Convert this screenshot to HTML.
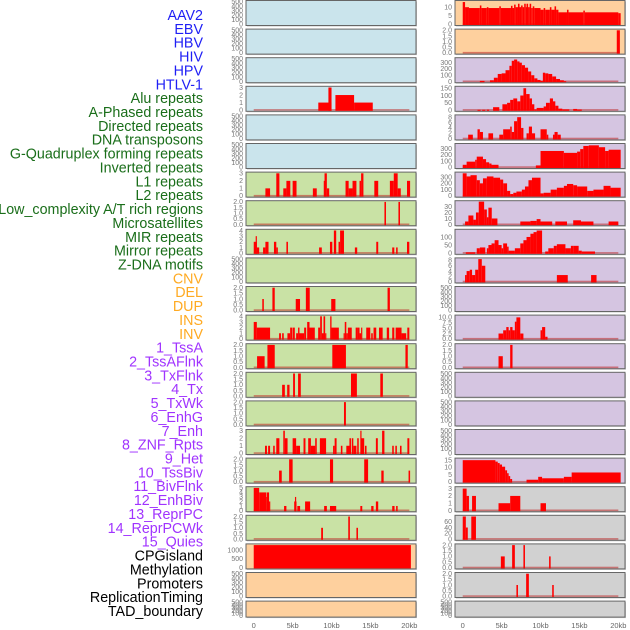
<!DOCTYPE html>
<html><head><meta charset="utf-8">
<style>
html,body{margin:0;padding:0;background:#fff;}
svg{display:block;font-family:"Liberation Sans",Arial,sans-serif;}
</style></head>
<body>
<svg id="chart" width="630" height="630" viewBox="0 0 630 630" xmlns="http://www.w3.org/2000/svg">
<g id="labels"></g>
<g id="panels"></g>
<g id="xaxes"></g>
</svg>
<script>
const trackNames = ["AAV2","EBV","HBV","HIV","HPV","HTLV-1","Alu repeats","A-Phased repeats","Directed repeats","DNA transposons","G-Quadruplex forming repeats","Inverted repeats","L1 repeats","L2 repeats","Low_complexity A/T rich regions","Microsatellites","MIR repeats","Mirror repeats","Z-DNA motifs","CNV","DEL","DUP","INS","INV","1_TssA","2_TssAFlnk","3_TxFlnk","4_Tx","5_TxWk","6_EnhG","7_Enh","8_ZNF_Rpts","9_Het","10_TssBiv","11_BivFlnk","12_EnhBiv","13_ReprPC","14_ReprPCWk","15_Quies","CPGisland","Methylation","Promoters","ReplicationTiming","TAD_boundary"];
const labelGroups = [6,13,5,15,5];
const groupColors = ["#1f1ff5","#1a6e1a","#ffaa22","#a033ff","#000000"];

const xTicks = [0,5,10,15,20];
const xTickLabels = ["0","5kb","10kb","15kb","20kb"];

const ticksEmpty = ["0","100","200","300","400","500"];
const ticks3 = ["0","1","2","3"];
const ticks4 = ["0","1","2","3","4"];
const ticks5 = ["0","1","2","3","4","5"];
const ticks2 = ["0.0","0.5","1.0","1.5","2.0"];
const ticks1000 = ["0","500","1000"];
const ticks10 = ["0","5","10"];
const ticks15 = ["0","5","10","15"];
const ticks300 = ["0","100","200","300"];
const ticks150 = ["0","50","100","150"];
const ticks8 = ["0","2","4","6","8"];
const ticks30 = ["0","10","20","30"];
const ticks100 = ["0","50","100"];
const ticks10f = ["0.0","2.5","5.0","7.5","10.0"];
const ticks60 = ["0","20","40","60"];

const hivBars = [[8.3,10.0,1],[9.6,10.0,3],[10.5,12.9,2],[12.9,15.3,1]];
const aluBars = [[1.5,2.1,1],[2.9,3.3,3],[3.8,4.2,1],[4.2,4.7,2],[5.0,5.5,2],[7.6,8.1,1],[9.0,9.3,2],[9.1,9.4,3],[9.4,9.7,1],[11.8,12.2,2],[12.2,12.7,1],[12.7,13.2,2],[13.6,13.8,2],[13.8,14.1,3],[15.5,16.0,2],[17.5,18.0,2],[18.0,18.5,3],[18.5,18.9,1],[19.7,20.1,2]];
const aPhasedBars = [[16.8,17.0,2],[18.6,18.8,2]];
const directedBars = [[0.0,0.4,2],[0.25,0.4,3],[0.4,0.7,1],[1.2,1.5,1],[1.5,1.9,2],[2.6,2.9,2],[2.9,3.1,1],[4.2,4.4,2],[8.4,8.75,1],[9.8,10.1,2],[10.3,10.6,4],[10.9,11.1,2],[11.1,11.6,4],[13.0,13.3,1],[15.75,16.0,2],[17.8,18.07,1],[18.3,18.5,1],[19.7,20.0,2]];
const gquadBars = [[1.1,1.3,1],[2.4,2.7,2],[5.4,5.95,1],[6.7,7.2,2],[9.96,10.5,1],[17.2,17.5,2]];
const invertedBars = [[0.0,0.4,3],[0.4,2.1,2],[3.26,3.5,1],[3.65,3.86,1],[4.33,4.68,1],[4.68,4.94,2],[5.0,5.28,2],[5.45,5.7,1],[5.7,5.88,2],[5.88,6.48,1],[6.48,6.74,2],[6.87,7.17,3],[7.17,7.85,2],[8.28,8.54,2],[8.54,8.76,4],[8.76,8.97,1],[8.97,9.18,4],[9.18,9.31,1],[9.83,10.0,4],[10.0,10.94,2],[11.55,11.7,1],[11.7,11.9,3],[11.9,12.1,1],[12.1,12.6,2],[13.1,13.35,2],[13.35,13.6,2],[13.6,13.8,1],[13.8,13.95,2],[14.46,14.98,2],[15.1,15.3,1],[15.4,15.75,2],[16.1,16.57,2],[17.1,17.4,2],[17.8,18.07,2],[18.24,19.0,2],[19.0,19.6,1],[19.74,20.0,2]];
const l1Bars = [[0.43,1.4,1],[1.76,2.7,2],[10.1,11.85,2],[19.5,19.8,2]];
const l2Bars = [[3.65,4.0,1],[4.3,4.6,1],[5.06,5.3,2],[5.7,6.05,2],[12.5,13.26,2],[16.27,16.6,2]];
const lowComplexBars = [[11.6,11.85,2]];
const microsatBars = [[1.45,1.7,1],[1.85,2.1,1],[2.5,2.7,1],[2.9,3.3,2],[3.8,4.0,3],[4.0,4.35,2],[5.0,5.45,2],[5.45,5.95,1],[6.4,6.65,2],[7.0,7.35,2],[7.35,7.9,1],[7.9,8.1,2],[8.5,9.3,2],[10.2,10.4,1],[10.4,10.65,2],[11.2,11.4,1],[11.9,12.5,1],[12.3,12.5,2],[12.6,12.8,2],[12.8,13.2,1],[13.3,13.5,2],[13.7,13.85,3],[13.85,14.2,2],[14.3,14.5,1],[15.7,15.95,2],[16.5,16.8,3],[17.8,18.0,1],[18.2,18.4,1],[18.8,19.0,1],[19.75,20.0,2]];
const mirBars = [[3.26,3.6,1],[4.55,5.0,2],[9.8,10.2,2],[14.2,14.7,2],[16.4,16.7,1],[19.9,20.1,1]];
const mirrorBars = [[0.0,0.7,5],[0.7,1.6,4],[1.6,1.67,3],[1.67,1.97,4],[1.97,2.1,2],[3.9,4.2,1],[5.2,5.5,2],[5.3,5.45,3],[5.6,5.96,1],[6.6,7.25,2],[9.05,9.4,1],[9.8,10.6,1],[13.7,13.95,1],[15.1,15.4,1],[15.7,16.0,2],[17.8,18.1,1],[18.3,18.5,1]];
const zdnaBars = [[8.67,8.9,1],[12.15,12.36,2],[13.2,13.4,1]];
const cnvBars = [[0.0,20.2,1290]];
const insBars = [[0,0.3,13],[0.3,0.8,10],[0.8,2.2,9.5],[2.2,2.4,11],[2.4,3.1,9.5],[3.1,3.3,10],[3.3,4.7,9.5],[4.7,4.9,10.5],[4.9,6.2,9.5],[6.2,6.4,10.8],[6.4,6.6,9.5],[6.6,6.8,11.5],[6.8,7.1,10],[7.1,7.3,12],[7.3,7.5,10],[7.5,7.7,11],[7.7,7.9,10],[7.9,8.1,12],[8.1,8.2,10],[8.2,8.4,12],[8.4,8.6,10],[8.6,8.8,12],[8.8,9.0,9.5],[9.0,9.2,10.5],[9.2,10.0,9.5],[10.0,10.4,8.5],[10.4,10.6,9.5],[10.6,11.2,8.5],[11.2,11.4,10],[11.4,11.8,8.5],[11.8,12.0,10.5],[12.0,12.3,8.5],[12.3,13.4,7],[13.4,13.6,8.5],[13.6,15.5,7],[15.5,15.7,8],[15.7,20.0,7],[20.0,20.3,6.5]];
const invBars = [[19.8,20.2,2]];
const tssABars = [[2.2,2.8,10],[3.5,4.0,20],[4.0,4.5,60],[4.5,5.0,120],[5.0,5.5,130],[5.5,6.0,180],[6.0,6.3,250],[6.3,6.6,330],[6.6,7.0,350],[7.0,7.3,320],[7.3,7.6,300],[7.6,8.0,260],[8.0,8.4,220],[8.4,8.8,160],[8.8,9.2,100],[9.2,9.6,50],[9.6,10.0,25],[10.0,10.3,10],[10.3,10.6,140],[10.6,11.0,130],[11.0,11.5,120],[11.5,12.0,80],[12.0,12.5,40],[12.5,13.0,20],[13.0,13.3,5]];
const tssAFlnkBars = [[1.9,2.3,2],[2.5,2.9,2],[3.1,3.4,3],[3.9,4.7,20],[5.1,5.7,40],[5.7,6.1,50],[6.1,6.5,70],[6.5,7.0,80],[7.0,7.4,60],[7.4,7.8,100],[7.8,8.15,150],[8.15,8.6,110],[8.6,8.9,80],[8.9,9.2,40],[9.2,9.5,5],[9.5,10.4,15],[10.4,10.7,25],[10.7,11.2,50],[11.2,11.6,80],[11.6,11.9,60],[11.9,12.3,30],[12.3,12.8,10],[12.8,13.7,5],[14.2,14.7,8],[14.7,15.3,4]];
const txFlnkBars = [[0.7,1.3,1.5],[1.9,2.2,3.5],[2.2,2.6,2.5],[3.3,3.9,2],[4.7,5.2,1.5],[5.2,6.1,3.5],[6.1,6.3,4.5],[6.3,6.6,2.5],[6.6,7.0,6.5],[7.0,7.5,8],[7.5,7.8,4],[8.2,8.5,2],[8.5,8.9,4.5],[8.9,9.3,2],[10.0,10.8,3.5],[10.8,11.0,1.5],[11.6,11.8,1.5],[11.8,12.2,2.5],[12.2,12.6,1.5]];
const txBars = [[0,0.5,40],[0.5,1.6,90],[1.6,1.8,120],[1.8,2.6,170],[2.6,3.0,130],[3.0,3.4,80],[3.4,3.7,60],[3.7,4.6,40],[9.4,10.0,30],[10.0,13.0,260],[13.0,14.7,230],[14.7,15.1,250],[15.1,15.5,290],[15.5,16.2,340],[16.2,17.5,350],[17.5,18.3,320],[18.3,18.75,260],[18.75,20.3,280]];
const txWkBars = [[0,0.5,360],[0.5,1.0,310],[1.0,1.8,330],[1.8,2.2,250],[2.2,2.6,200],[2.6,3.1,280],[3.1,3.95,310],[3.95,4.8,290],[4.8,5.2,260],[5.2,5.7,200],[5.7,6.1,80],[6.1,6.5,30],[6.5,6.9,50],[6.9,7.6,70],[7.6,8.0,100],[8.0,8.45,150],[8.45,8.9,250],[8.9,10.0,290],[10.0,10.4,40],[10.4,11.3,50],[11.3,12.1,100],[12.1,13.0,130],[13.0,13.4,160],[13.4,14.2,190],[14.2,14.7,170],[14.7,16.0,150],[16.0,16.8,80],[16.8,18.1,100],[18.1,19.0,160],[19.0,20.3,130]];
const enhGBars = [[0.3,0.73,5],[0.73,1.37,15],[1.37,1.7,8],[1.7,2.06,20],[2.06,2.75,38],[2.75,3.1,25],[3.1,3.3,12],[3.3,3.73,28],[3.73,4.46,10],[7.4,8.7,5],[8.7,9.5,6],[9.5,10.0,9],[10.0,11.5,5],[11.9,13.4,5],[14.2,15.2,7],[15.2,16.8,5],[18.75,20.0,5]];
const enhBars = [[0.4,1.6,5],[1.8,2.2,30],[2.2,2.9,35],[3.1,3.3,30],[3.3,3.7,50],[3.7,4.1,60],[4.1,4.6,80],[4.6,5.0,50],[5.0,5.2,30],[5.2,5.7,60],[5.7,5.9,40],[5.9,6.7,15],[6.7,7.4,30],[7.4,7.8,60],[7.8,8.2,80],[8.2,8.7,100],[8.7,9.1,120],[9.1,9.5,130],[9.5,10.2,140],[10.6,11.0,10],[11.0,11.7,30],[11.7,12.1,45],[12.1,13.2,55],[13.2,13.9,30],[13.9,14.2,45],[14.2,14.9,45],[14.9,15.3,15],[15.3,17.0,10]];
const znfBars = [[0.3,0.5,2.5],[0.5,0.9,4],[0.9,1.2,4.5],[1.2,1.6,2.5],[1.6,2.0,4.5],[2.0,2.45,8.5],[2.45,2.9,6],[12.1,13.5,2.5],[16.5,17.2,2.5]];
const bivFlnkBars = [[4.6,5.2,2.5],[5.2,5.6,4],[5.6,5.9,5.5],[5.9,6.1,4],[6.1,6.4,5.5],[6.4,6.7,4],[6.7,6.9,8],[6.9,7.4,10],[7.4,7.8,2.5],[10.0,10.2,4],[10.2,10.6,5.5],[10.6,10.9,1]];
const enhBivBars = [[4.6,5.15,1],[6.1,6.4,2]];
const quiesBars = [[0,4.2,15],[4.2,4.5,14],[4.5,4.75,13],[4.75,5.05,12],[5.05,5.45,10.5],[5.45,5.7,8],[5.7,5.9,6],[5.9,6.1,4],[6.1,6.35,2],[8.2,9.7,1.5],[9.7,10.2,3.5],[10.2,13.0,2.5],[13.0,14.0,3.5],[14.0,20.3,6.5]];
const cpgBars = [[0,0.5,3],[0.5,0.8,2],[1.2,1.7,2],[4.6,6.1,1],[6.1,7.4,2],[10.0,10.7,1]];
const methylBars = [[0,0.4,78],[0.4,0.65,40],[1.1,1.7,78]];
const promoterBars = [[4.9,5.4,1],[6.35,6.7,2],[7.8,8.0,2],[11.1,11.3,1]];
const replBars = [[6.9,7.1,1],[8.15,8.5,2],[11.5,11.7,1]];

const BLUE="rgb(202,228,236)",GREEN="rgb(201,226,165)",ORANGE="rgb(254,208,158)",PURPLE="rgb(213,197,225)",GRAY="rgb(209,209,209)";
const leftPanels = [
 [BLUE,ticksEmpty,[],500],[BLUE,ticksEmpty,[],500],[BLUE,ticksEmpty,[],500],[BLUE,ticks3,hivBars,3],[BLUE,ticksEmpty,[],500],[BLUE,ticksEmpty,[],500],
 [GREEN,ticks3,aluBars,3],[GREEN,ticks2,aPhasedBars,2],[GREEN,ticks4,directedBars,4],[GREEN,ticksEmpty,[],500],[GREEN,ticks2,gquadBars,2],[GREEN,ticks4,invertedBars,4],
 [GREEN,ticks2,l1Bars,2],[GREEN,ticks2,l2Bars,2],[GREEN,ticks2,lowComplexBars,2],[GREEN,ticks3,microsatBars,3],[GREEN,ticks2,mirBars,2],[GREEN,ticks5,mirrorBars,5],[GREEN,ticks2,zdnaBars,2],
 [ORANGE,ticks1000,cnvBars,1290],[ORANGE,ticksEmpty,[],500],[ORANGE,ticksEmpty,[],500]
];
const rightPanels = [
 [ORANGE,ticks10,insBars,13.2],[ORANGE,ticks2,invBars,2],
 [PURPLE,ticks300,tssABars,360],[PURPLE,ticks150,tssAFlnkBars,155],[PURPLE,ticks8,txFlnkBars,8.4],[PURPLE,ticks300,txBars,360],[PURPLE,ticks300,txWkBars,360],
 [PURPLE,ticks30,enhGBars,37.6],[PURPLE,ticks100,enhBars,140],[PURPLE,ticks8,znfBars,8.5],[PURPLE,ticksEmpty,[],500],[PURPLE,ticks10f,bivFlnkBars,10.5],
 [PURPLE,ticks2,enhBivBars,2],[PURPLE,ticksEmpty,[],500],[PURPLE,ticksEmpty,[],500],[PURPLE,ticksEmpty,[],500],[PURPLE,ticks15,quiesBars,15.6],
 [GRAY,ticks3,cpgBars,3.1],[GRAY,ticks60,methylBars,78],[GRAY,ticks2,promoterBars,2],[GRAY,ticks2,replBars,2],[GRAY,ticksEmpty,[],500]
];

const NS="http://www.w3.org/2000/svg";
function mk(tag,attrs,parent){const e=document.createElementNS(NS,tag);for(const k in attrs)e.setAttribute(k,attrs[k]);parent.appendChild(e);return e;}

const gl=document.getElementById('labels');
let idx=0;
labelGroups.forEach((n,gi)=>{for(let i=0;i<n;i++){
  const t=mk('text',{x:203,y:15+idx*13.86+5,'text-anchor':'end','font-size':14.3,fill:groupColors[gi]},gl);
  
  
  t.textContent=trackNames[idx];idx++;}});

const colX=[246,455];
const panelW=170;
function xScale(col,kb){return colX[col]+7.73+kb*7.78;}
function rowTop(r){return 0.5+r*28.6;}

const gp=document.getElementById('panels');
function drawPanel(col,r,p){
  const [bg,ticks,bars,ymax]=p;
  const top=rowTop(r), h=(r===21?16:25), x0=colX[col];
  const bottom=top+h;
  const g=mk('g',{},gp);
  
  
  mk('rect',{x:x0+1,y:top+1,width:panelW,height:h,fill:'#c8c8c8'},g);
  const bgR=mk('rect',{x:x0,y:top,width:panelW,height:h,fill:bg,stroke:'#666','stroke-width':1},g);
  
  
  const y=v=>bottom-1.2-v/ymax*(h-2.4);
  ticks.forEach(tl=>{
    const v=parseFloat(tl);
    const t=mk('text',{x:x0-3,y:y(v)+2.3,'text-anchor':'end','font-size':7,fill:'#777'},g);
    
    
    t.textContent=tl;
  });
  if(bars.length){
    if(!(bars.length===1&&bars[0][1]-bars[0][0]>15)){
      const bl=mk('rect',{x:xScale(col,0),y:bottom-2.2,width:xScale(col,20)-xScale(col,0),height:1.6,fill:'rgba(190,40,40,0.55)'},g);
      
      
    }
    bars.forEach(b=>{
      const xa=xScale(col,b[0]),xb=xScale(col,b[1]);
      const yt=Math.max(top+0.5,y(b[2]));
      const rc=mk('rect',{x:xa,y:yt,width:Math.max(1.2,xb-xa),height:bottom-0.5-yt,fill:'#ff0000'},g);
      
      
    });
  }
}
leftPanels.forEach((p,r)=>drawPanel(0,r,p));
rightPanels.forEach((p,r)=>drawPanel(1,r,p));

const gx=document.getElementById('xaxes');
[0,1].forEach(col=>{xTicks.forEach((v,i)=>{
  const t=mk('text',{x:xScale(col,v),y:628,'text-anchor':'middle','font-size':7.5,fill:'#666'},gx);
  
  
  t.textContent=xTickLabels[i];
});});
</script>
</body></html>
